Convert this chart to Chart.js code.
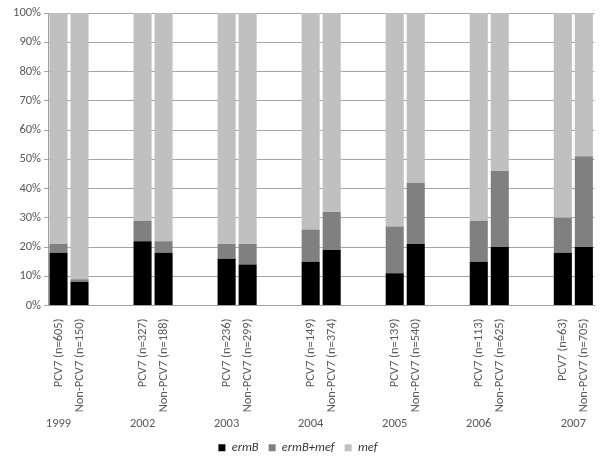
<!DOCTYPE html>
<html>
<head>
<meta charset="utf-8">
<script src="https://cdn.jsdelivr.net/npm/chart.js@4"></script>
<style>
  html, body { margin: 0; padding: 0; background: #fff; }
  #wrap { width: 604px; height: 464px; }
</style>
</head>
<body>
<div id="wrap"><canvas id="c" width="604" height="464"></canvas></div>
<script>
// ---- data ----
const years = ['1999', '2002', '2003', '2004', '2005', '2006', '2007'];
const groupNames = ['PCV7', 'Non-PCV7'];
const nCounts = [[605, 150], [327, 188], [236, 299], [149, 374], [139, 540], [113, 625], [63, 705]];
const ermB = [[18, 8], [22, 18], [16, 14], [15, 19], [11, 21], [15, 20], [18, 20]];
const ermBmef = [[3, 1], [7, 4], [5, 7], [11, 13], [16, 21], [14, 26], [12, 31]];
const mef = [[79, 91], [71, 78], [79, 79], [74, 68], [73, 58], [71, 54], [70, 49]];
const yTicks = [0, 10, 20, 30, 40, 50, 60, 70, 80, 90, 100];
const seriesNames = ['ermB', 'ermB+mef', 'mef'];
const seriesColors = ['#000000', '#808080', '#c0c0c0'];

// ---- build category table (two blank slots between year groups) ----
const labels = [];
const yearSlot = [];
const flat = [[], [], []];
years.forEach((y, gi) => {
  if (gi > 0) {
    for (let k = 0; k < 2; k++) {
      labels.push('');
      flat.forEach(a => a.push(null));
    }
  }
  const start = labels.length;
  groupNames.forEach((g, j) => {
    labels.push(g + ' (n=' + nCounts[gi][j] + ')');
    flat[0].push(ermB[gi][j]);
    flat[1].push(ermBmef[gi][j]);
    flat[2].push(mef[gi][j]);
  });
  yearSlot.push(gi === years.length - 1 ? start + 0.5 : start);
});

const FONT = 'Carlito, Calibri, Lato, sans-serif';
const TXT = '#595959';

const yearPlugin = {
  id: 'yearLabels',
  afterDraw(chart) {
    const ctx = chart.ctx;
    const xs = chart.scales.x;
    ctx.save();
    ctx.font = '12.5px ' + FONT;
    ctx.fillStyle = TXT;
    ctx.textAlign = 'center';
    ctx.textBaseline = 'middle';
    years.forEach((y, i) => {
      ctx.fillText(y, xs.getPixelForValue(yearSlot[i]), chart.chartArea.bottom + 118);
    });
    ctx.restore();
  }
};

new Chart(document.getElementById('c'), {
  type: 'bar',
  data: {
    labels: labels,
    datasets: seriesNames.map((n, i) => ({
      label: n,
      data: flat[i],
      backgroundColor: seriesColors[i],
      borderWidth: 0,
      barPercentage: 0.86,
      categoryPercentage: 1.0
    }))
  },
  options: {
    responsive: false,
    animation: false,
    devicePixelRatio: 1,
    layout: { padding: { left: 0, right: 8, top: 13, bottom: 0 } },
    plugins: {
      legend: {
        position: 'bottom',
        labels: {
          boxWidth: 7,
          boxHeight: 7,
          padding: 10,
          color: '#333',
          font: { family: FONT, size: 12.5, style: 'italic' }
        }
      },
      tooltip: { enabled: false }
    },
    scales: {
      x: {
        stacked: true,
        grid: { display: false },
        border: { display: true, color: '#a0a0a0', width: 1 },
        ticks: {
          autoSkip: false,
          maxRotation: 90,
          minRotation: 90,
          padding: 5,
          color: TXT,
          font: { family: FONT, size: 12.5 }
        },
        afterFit(s) { s.height = 126; }
      },
      y: {
        stacked: true,
        min: 0,
        max: 100,
        afterBuildTicks(s) { s.ticks = yTicks.map(v => ({ value: v })); },
        grid: { color: '#a6a6a6', lineWidth: 1, drawTicks: true, tickLength: 4 },
        border: { display: true, color: '#a0a0a0' },
        ticks: {
          padding: 3,
          color: TXT,
          font: { family: FONT, size: 12.5 },
          callback: v => v + '%'
        },
        afterFit(s) { s.width = 48; }
      }
    }
  },
  plugins: [yearPlugin]
});
</script>
</body>
</html>
